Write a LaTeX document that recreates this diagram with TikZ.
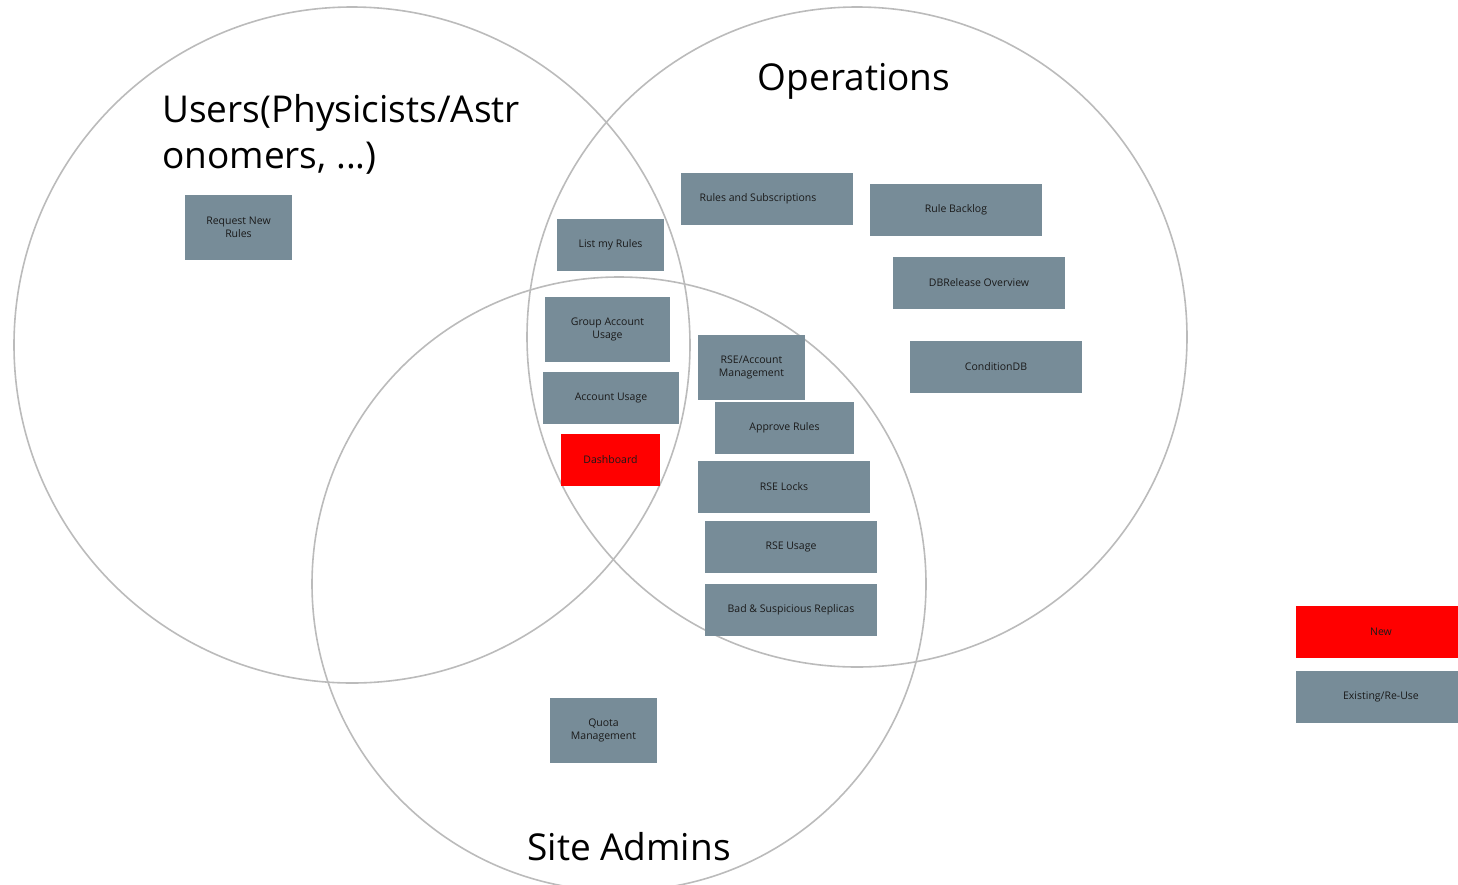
\documentclass[tikz,border=0pt]{standalone}
\usepackage{fontspec}
\setmainfont{Open Sans}
\definecolor{boxfill}{HTML}{778C98}
\definecolor{ringcol}{HTML}{BBBBBB}
\definecolor{boxtext}{HTML}{1A1A1A}
\begin{document}
\begin{tikzpicture}[x=1pt,y=-1pt,
  ring/.style={draw=ringcol, line width=1.6pt},
  box/.style={rectangle, fill=boxfill, inner sep=0pt, align=center, text=boxtext, font=\fontsize{10.5}{13}\selectfont},
  newbox/.style={box, fill=red},
  title/.style={inner sep=0pt, text=black, font=\fontsize{37}{46}\selectfont}]
\useasboundingbox (0,0) rectangle (1458,884);
\clip (0,0) rectangle (1458,884);
\draw[ring] (352,345) circle[radius=338];
\draw[ring] (857,337) circle[radius=330];
\draw[ring] (619,584) circle[radius=307];

\node[title, anchor=base west, align=left] (tusers) at (162,168) {Users(Physicists/Astr\\onomers, ...)};
\node[title, anchor=base] (tops) at (854,90) {Operations};
\node[title, anchor=base] (tsite) at (629,860) {Site Admins};

\node[box, minimum width=107, minimum height=65] (req) at (238.5,227.5) {Request New\\Rules};
\node[box, minimum width=107, minimum height=52] (list) at (610.5,245) {List my Rules};
\node[box, minimum width=172, minimum height=52] (rules) at (767,199) {\hspace*{-18pt}Rules and Subscriptions};
\node[box, minimum width=125, minimum height=65] (group) at (607.5,329.5) {Group Account\\Usage};
\node[box, minimum width=136, minimum height=52] (acc) at (611,398) {Account Usage};
\node[newbox, minimum width=99, minimum height=52] (dash) at (610.5,460) {Dashboard};
\node[box, minimum width=107, minimum height=65] (rseacc) at (751.5,367.5) {RSE/Account\\Management};
\node[box, minimum width=139, minimum height=52] (approve) at (784.5,428) {Approve Rules};
\node[box, minimum width=172, minimum height=52] (locks) at (784,487) {RSE Locks};
\node[box, minimum width=172, minimum height=52] (usage) at (791,547) {RSE Usage};
\node[box, minimum width=172, minimum height=52] (bad) at (791,610) {Bad \& Suspicious Replicas};
\node[box, minimum width=172, minimum height=52] (backlog) at (956,210) {Rule Backlog};
\node[box, minimum width=172, minimum height=52] (dbrel) at (979,283) {DBRelease Overview};
\node[box, minimum width=172, minimum height=52] (cond) at (996,367) {ConditionDB};
\node[box, minimum width=107, minimum height=65] (quota) at (603.5,730.5) {Quota\\Management};
\node[newbox, minimum width=162, minimum height=52] (lnew) at (1377,632) {\hspace*{8pt}New};
\node[box, minimum width=162, minimum height=52] (lold) at (1377,697) {\hspace*{8pt}Existing/Re-Use};
\end{tikzpicture}
\end{document}
